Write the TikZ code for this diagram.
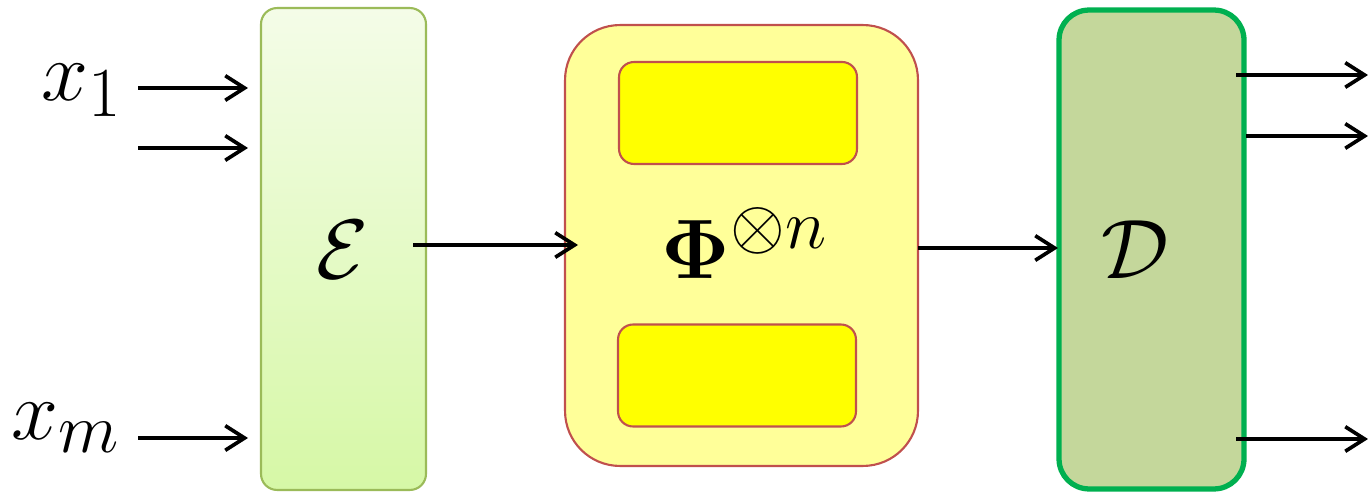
\documentclass[tikz,border=0pt]{standalone}
\usepackage{amsmath,amssymb}
\usetikzlibrary{arrows.meta}
\definecolor{encborder}{RGB}{155,187,89}
\definecolor{enctop}{RGB}{244,252,232}
\definecolor{encbot}{RGB}{214,248,166}
\definecolor{chfill}{RGB}{255,255,153}
\definecolor{chborder}{RGB}{192,80,77}
\definecolor{inyellow}{RGB}{255,255,0}
\definecolor{decborder}{RGB}{0,176,80}
\definecolor{decfill}{RGB}{196,215,155}
\newcommand{\bigmath}[1]{\scalebox{1.93}{\Huge$#1$}}
\tikzset{
  conn/.style={line width=2.1pt, -{Straight Barb[length=11pt,width=14pt,line width=2.1pt]}},
  bigtext/.style={inner sep=0pt},
  encbox/.style={draw=encborder, line width=1.2pt, rounded corners=0.32cm, top color=enctop, bottom color=encbot,
    minimum width=3.3cm, minimum height=9.64cm, inner sep=0pt},
  chbox/.style={draw=chborder, line width=1.2pt, rounded corners=1.1cm, fill=chfill,
    minimum width=7.06cm, minimum height=8.82cm, inner sep=0pt},
  inbox/.style={draw=chborder, line width=1.2pt, rounded corners=0.3cm, fill=inyellow,
    minimum width=4.76cm, minimum height=2.04cm, inner sep=0pt},
  decbox/.style={draw=decborder, line width=3pt, rounded corners=0.6cm, fill=decfill,
    minimum width=3.7cm, minimum height=9.58cm, inner sep=0pt},
}
\begin{document}
\begin{tikzpicture}[x=0.02cm,y=-0.02cm]
\useasboundingbox (0,0) rectangle (1368,496);
% boxes
\node[encbox] (enc) at (343.5,249) {};
\node[chbox] (ch) at (741.5,245.5) {};
\node[inbox] (in1) at (738,113) {};
\node[inbox] (in2) at (737,375.5) {};
\node[decbox] (dec) at (1151.5,249.5) {};
% labels
\node[bigtext] (lx1) at (82,90) {\bigmath{x_1}};
\node[bigtext] (lxm) at (66,428) {\bigmath{x_m}};
\node[bigtext] (lE) at (343,250) {\bigmath{\mathcal{E}}};
\node[bigtext] (lPhi) at (745,243) {\bigmath{\mathbf{\Phi}^{\otimes n}}};
\node[bigtext] (lD) at (1135,250) {\bigmath{\mathcal{D}}};
% coordinates
\coordinate (i1s) at (138,88);  \coordinate (i1e) at (248,88);
\coordinate (i2s) at (138,148); \coordinate (i2e) at (248,148);
\coordinate (i3s) at (138,438); \coordinate (i3e) at (248,438);
\coordinate (es) at (413,245);  \coordinate (ee) at (578,245);
\coordinate (cs) at (918,248);  \coordinate (ce) at (1058,248);
\coordinate (o1s) at (1236,75);  \coordinate (o1e) at (1368,75);
\coordinate (o2s) at (1246,136); \coordinate (o2e) at (1368,136);
\coordinate (o3s) at (1236,439); \coordinate (o3e) at (1368,439);
% connectors
\draw[conn] (i1s) -- (i1e);
\draw[conn] (i2s) -- (i2e);
\draw[conn] (i3s) -- (i3e);
\draw[conn] (es) -- (ee);
\draw[conn] (cs) -- (ce);
\draw[conn] (o1s) -- (o1e);
\draw[conn] (o2s) -- (o2e);
\draw[conn] (o3s) -- (o3e);
\end{tikzpicture}
\end{document}
